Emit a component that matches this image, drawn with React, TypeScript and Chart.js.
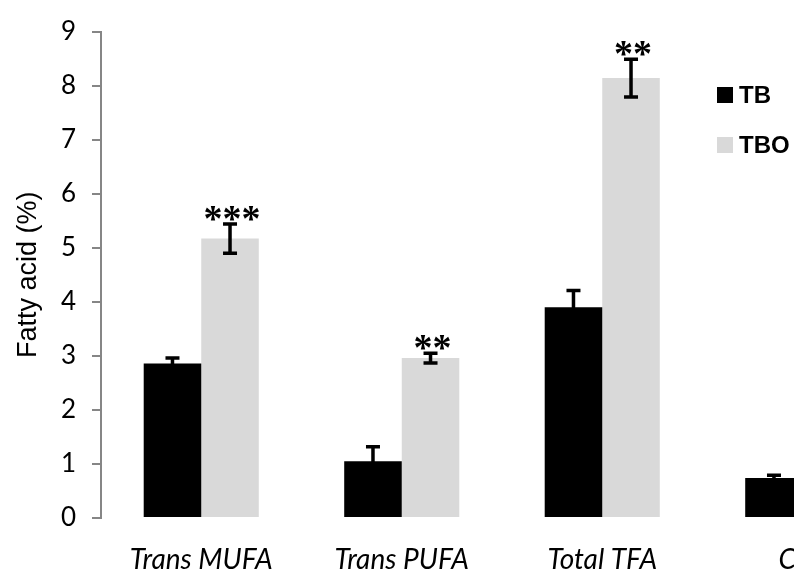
import React, { useEffect, useRef } from "react";
import { Chart, registerables } from "chart.js";

Chart.register(...registerables);

const categories = ["Trans MUFA", "Trans PUFA", "Total TFA", "CLA"];
const seriesNames = ["TB", "TBO"];
const seriesColors = ["#000000", "#d9d9d9"];
const tbValues = [2.86, 1.05, 3.9, 0.74];
const tboValues = [5.17, 2.96, 8.14, 0.95];
const tbErrors = [0.1, 0.27, 0.31, 0.05];
const tboErrors = [0.27, 0.09, 0.35, 0.08];
const tboStars = ["***", "**", "**", ""];
const yMin = 0;
const yMax = 9;
const yStep = 1;
const yTitle = "Fatty acid (%)";

const errorsBySeries = [tbErrors, tboErrors];
const starsBySeries = [[], tboStars];

const errorBarPlugin = {
  id: "errorBars",
  afterDatasetsDraw(chart: any) {
    const ctx = chart.ctx;
    const y = chart.scales.y;
    chart.data.datasets.forEach((ds: any, di: number) => {
      const meta = chart.getDatasetMeta(di);
      const errs = errorsBySeries[di];
      const stars = starsBySeries[di] as string[];
      meta.data.forEach((bar: any, i: number) => {
        const v = ds.data[i];
        const e = errs[i];
        const x = bar.x;
        const yTop = y.getPixelForValue(v + e);
        const yBot = y.getPixelForValue(v - e);
        ctx.save();
        ctx.strokeStyle = "#000";
        ctx.lineWidth = 3.5;
        ctx.beginPath();
        ctx.moveTo(x, yTop);
        ctx.lineTo(x, yBot);
        ctx.moveTo(x - 7, yTop);
        ctx.lineTo(x + 7, yTop);
        ctx.moveTo(x - 7, yBot);
        ctx.lineTo(x + 7, yBot);
        ctx.stroke();
        const s = stars[i];
        if (s) {
          ctx.fillStyle = "#000";
          ctx.font = "bold 38px 'Liberation Serif'";
          ctx.textAlign = "center";
          ctx.textBaseline = "alphabetic";
          const m = ctx.measureText(s);
          const bottom = yTop - 3;
          ctx.fillText(s, x + 2, bottom - m.actualBoundingBoxDescent);
        }
        ctx.restore();
      });
    });
  },
};

const legendPlugin = {
  id: "sideLegend",
  afterDraw(chart: any) {
    const ctx = chart.ctx;
    ctx.save();
    ctx.font = "bold 24px 'Liberation Sans'";
    ctx.textBaseline = "middle";
    ctx.textAlign = "left";
    seriesNames.forEach((name, i) => {
      const cy = 95 + i * 50;
      ctx.fillStyle = seriesColors[i];
      ctx.fillRect(717, cy - 8, 16, 16);
      ctx.fillStyle = "#000";
      ctx.fillText(name, 739, cy + 1);
    });
    ctx.restore();
  },
};

export default function App() {
  const ref = useRef<HTMLCanvasElement>(null);
  useEffect(() => {
    if (!ref.current) return;
    const chart = new Chart(ref.current, {
      type: "bar",
      data: {
        labels: categories,
        datasets: [
          {
            label: seriesNames[0],
            data: tbValues,
            backgroundColor: seriesColors[0],
            categoryPercentage: 0.574,
            barPercentage: 1.0,
          },
          {
            label: seriesNames[1],
            data: tboValues,
            backgroundColor: seriesColors[1],
            categoryPercentage: 0.574,
            barPercentage: 1.0,
          },
        ],
      },
      options: {
        animation: false,
        responsive: false,
        maintainAspectRatio: false,
        layout: { padding: { top: 20, right: 97, bottom: 0, left: 0 } },
        plugins: { legend: { display: false }, tooltip: { enabled: false } },
        scales: {
          x: {
            grid: { display: false, drawTicks: false },
            border: { display: false },
            ticks: {
              padding: 25,
              color: "#000",
              font: { family: "Lato", size: 28, style: "italic" },
              maxRotation: 0,
              autoSkip: false,
            },
            afterFit: (s: any) => {
              s.height = 57;
            },
          },
          y: {
            min: yMin,
            max: yMax,
            ticks: {
              stepSize: yStep,
              padding: 16,
              color: "#000",
              font: { family: "Lato", size: 26 },
            },
            grid: { drawOnChartArea: false, tickLength: 9, color: "#868686", lineWidth: 2 },
            border: { color: "#868686", width: 2 },
            title: {
              display: true,
              text: yTitle,
              color: "#000",
              font: { family: "Liberation Sans", size: 27 },
              padding: { top: 12, bottom: 0 },
            },
            afterFit: (s: any) => {
              s.width = 101;
            },
          },
        },
      },
      plugins: [errorBarPlugin, legendPlugin],
    });
    return () => chart.destroy();
  }, []);
  return (
    <div style={{ position: "absolute", left: 0, top: 0, width: 794, height: 575, overflow: "hidden", background: "#fff" }}>
      <canvas ref={ref} width={1000} height={575} style={{ width: 1000, height: 575, display: "block" }} />
    </div>
  );
}
